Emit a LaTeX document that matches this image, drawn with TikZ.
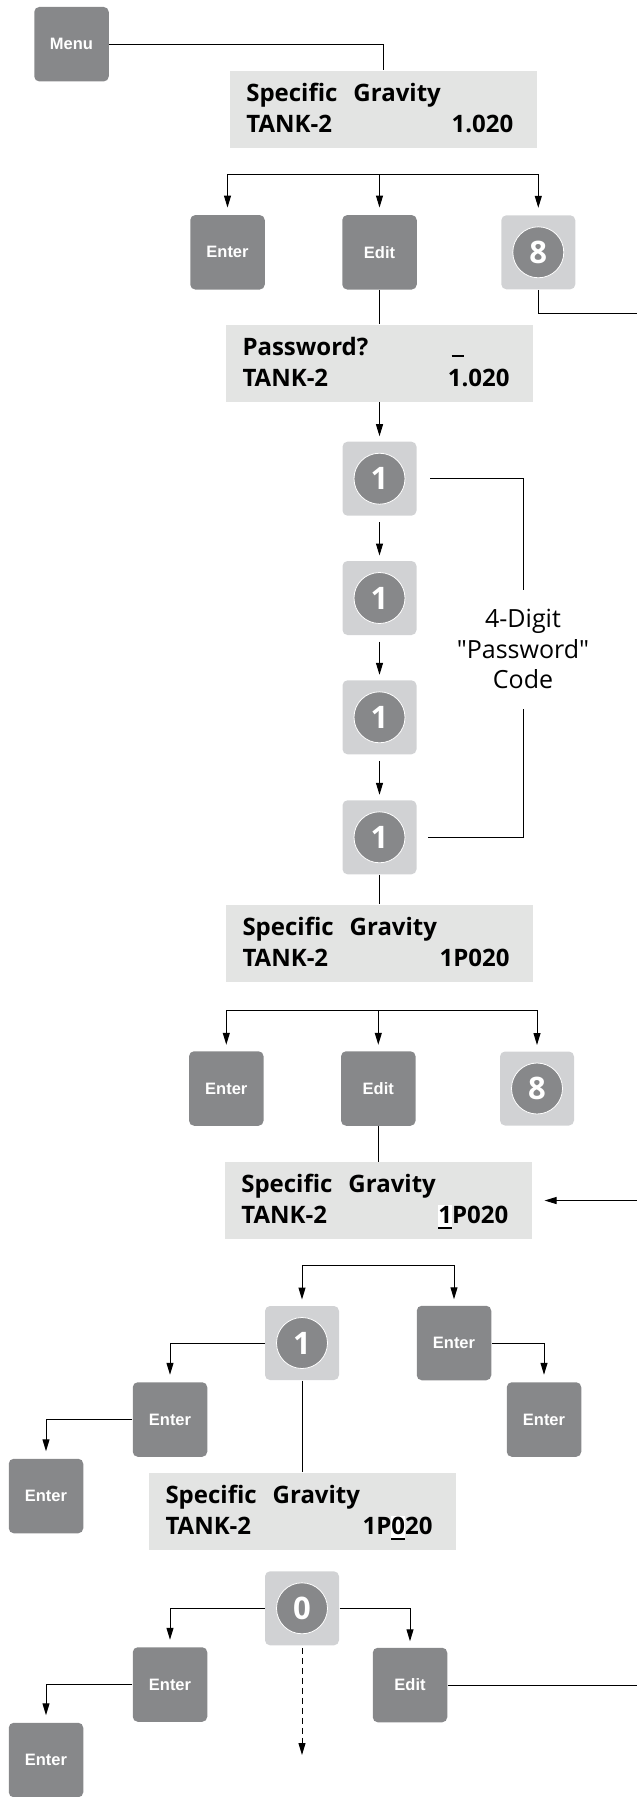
\documentclass[tikz,border=0pt]{standalone}
\usepackage{fontspec}
\usetikzlibrary{arrows.meta,positioning}
\newfontfamily\lcdfam{Open Sans}
\newfontfamily\keyfam{Liberation Sans}
\definecolor{keydark}{RGB}{135,136,138}
\definecolor{keylight}{RGB}{209,210,212}
\definecolor{lcdgray}{RGB}{227,228,227}
\newsavebox\cursorbox
\newcommand{\cursor}[1]{\sbox\cursorbox{#1}%
  \rlap{\color{white}\rule[-5pt]{\wd\cursorbox}{24pt}}%
  \rlap{\rule[-5pt]{\wd\cursorbox}{2pt}}\usebox\cursorbox}
\newcommand{\val}[1]{\hspace{\fill}#1\rule{7pt}{0pt}}

\begin{document}
\begin{tikzpicture}[x=1pt,y=1pt,line width=1pt]
    \tikzstyle{every node} = [inner sep=0pt]
    \tikzstyle{key} = [fill=keydark, rounded corners=5pt, minimum size=74.5pt, text=white, font=\keyfam\bfseries\fontsize{16.5}{20}\selectfont]
    \tikzstyle{numkey} = [fill=keylight, rounded corners=5pt, minimum size=74pt, text=white, font=\lcdfam\bfseries\fontsize{31}{36}\selectfont,
        path picture={\filldraw[fill=keydark, draw=white, line width=0.8pt] (path picture bounding box.center) circle (25.5pt);}]
    \tikzstyle{lcd} = [fill=lcdgray, minimum width=307.5pt, text width=274pt, align=left, text height=30.7pt, text depth=46pt, font=\lcdfam\bfseries\fontsize{24}{31}\selectfont]
    \tikzstyle{note} = [align=center, minimum height=118.3pt, font=\lcdfam\fontsize{25}{30.5}\selectfont]
    \tikzstyle{arr} = [-{Stealth[length=12pt,width=7pt,inset=0pt]}]
    \useasboundingbox (0,0) rectangle (637,-1797);

    % place nodes
    \node[key] (menu) at (71.5,-44.2) {Menu};
    \node[lcd] (sg1) at (383.3,-109.3) {Specific\ \ Gravity\\TANK-2\val{1.020}};
    \node[key] (enter1) at (227.5,-252.3) {Enter};
    \node[key] (edit1) at (379.5,-252.3) {Edit};
    \node[numkey] (eight1) at (538.3,-252.3) {8};
    \node[lcd] (pw) at (379.5,-363.3) {Password?\hspace{\fill}\rule[-1pt]{12pt}{2pt}\rule{53pt}{0pt}\\TANK-2\val{1.020}};
    \node[numkey] (one1) at (379.5,-478.7) {1};
    \node[numkey, below=44.3pt of one1] (one2) {1};
    \node[numkey, below=44.3pt of one2] (one3) {1};
    \node[numkey, below=45pt of one3] (one4) {1};
    \node[note] (pwcode) at (523,-649.2) {4-Digit\\"Password"\\Code};
    \node[lcd] (sg2) at (379.5,-943.3) {Specific\ \ Gravity\\TANK-2\val{1P020}};
    \node[key] (enter2) at (226.3,-1088.5) {Enter};
    \node[key] (edit2) at (378.3,-1088.5) {Edit};
    \node[numkey] (eight2) at (537,-1088.5) {8};
    \node[lcd] (sg3) at (378.3,-1200.5) {Specific\ \ Gravity\\TANK-2\val{\cursor{1}P020}};
    \node[numkey] (one5) at (302,-1343) {1};
    \node[key] (enter3) at (454,-1343) {Enter};
    \node[key] (enter4) at (170,-1419.5) {Enter};
    \node[key] (enter5) at (46,-1496) {Enter};
    \node[key] (enter6) at (544,-1419.5) {Enter};
    \node[lcd] (sg4) at (302.5,-1511.3) {Specific\ \ Gravity\\TANK-2\val{1P\cursor{0}20}};
    \node[numkey] (zero) at (302,-1608.3) {0};
    \node[key] (enter7) at (170,-1684.5) {Enter};
    \node[key] (enter8) at (46,-1760) {Enter};
    \node[key] (edit3) at (410,-1685) {Edit};

    \coordinate (fork1) at (379.5,-174);
    \coordinate (exit1) at (637,-313.3);
    \coordinate (fork2) at (378.3,-1010.7);
    \coordinate (entry3) at (637,-1200.5);
    \coordinate (fork3) at (378,-1265.7);
    \coordinate (exit2) at (637,-1685);
    \coordinate (more) at (302,-1755);

    % Connections
    \draw (menu.east) -| (sg1.north);
    \draw[arr, shorten >=7pt] (fork1) -| (enter1.north);
    \draw[arr, shorten >=7pt] (fork1) -- (edit1.north);
    \draw[arr, shorten >=7pt] (fork1) -| (eight1.north);
    \draw (edit1.south) -- (pw.north);
    \draw (eight1.south) |- (exit1);
    \draw[arr, shorten >=5pt] (pw.south) -- (one1.north);
    \draw[arr, shorten <=6pt, shorten >=5pt] (one1.south) -- (one2.north);
    \draw[arr, shorten <=6pt, shorten >=5pt] (one2.south) -- (one3.north);
    \draw[arr, shorten <=6pt, shorten >=5pt] (one3.south) -- (one4.north);
    \draw ([xshift=13pt]one1.east) -| (pwcode.north);
    \draw ([xshift=11pt]one4.east) -| (pwcode.south);
    \draw (one4.south) -- (sg2.north);
    \draw[arr, shorten >=6pt] (fork2) -| (enter2.north);
    \draw[arr, shorten >=6pt] (fork2) -- (edit2.north);
    \draw[arr, shorten >=6pt] (fork2) -| (eight2.north);
    \draw (edit2.south) -- (sg3.north);
    \draw[arr, shorten >=12pt] (entry3) -- (sg3.east);
    \draw[arr, shorten >=6pt] (fork3) -| (one5.north);
    \draw[arr, shorten >=6pt] (fork3) -| (enter3.north);
    \draw[arr, shorten >=7pt] (one5.west) -| (enter4.north);
    \draw[arr, shorten >=7pt] (enter4.west) -| (enter5.north);
    \draw[arr, shorten >=7pt] (enter3.east) -| (enter6.north);
    \draw (one5.south) -- (one5.south |- sg4.north);
    \draw[arr, shorten >=7pt] (zero.west) -| (enter7.north);
    \draw[arr, shorten >=7pt] (enter7.west) -| (enter8.north);
    \draw[arr, shorten >=6pt] (zero.east) -| (edit3.north);
    \draw (edit3.east) -- (exit2);
    \draw[arr, dash pattern=on 6pt off 4pt, shorten <=2pt] (zero.south) -- (more);

\end{tikzpicture}
\end{document}
